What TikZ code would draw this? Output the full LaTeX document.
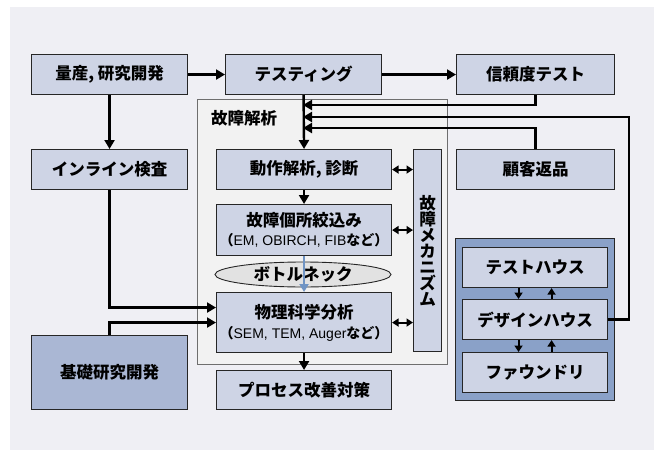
\documentclass[tikz,border=0pt]{standalone}
\usepackage{fontspec}
\newfontfamily\jp{Noto Sans CJK JP}
\newfontfamily\lat{Liberation Sans}
\usetikzlibrary{arrows.meta,shapes.geometric}
\definecolor{bgc}{HTML}{EFEFF4}
\definecolor{boxc}{HTML}{CED4E5}
\definecolor{basicc}{HTML}{AAB7D4}
\definecolor{bluec}{HTML}{8AA1C8}
\definecolor{contc}{HTML}{F2F2F2}
\definecolor{contb}{HTML}{6E6E6E}
\definecolor{ellc}{HTML}{E2E2E2}
\definecolor{arrblue}{HTML}{7094C4}
\begin{document}
\begin{tikzpicture}[x=1pt,y=-1pt,
  box/.style={draw=black!85, line width=1.1pt, fill=boxc, inner sep=0pt, anchor=north west, align=center,
    font=\jp\bfseries\fontsize{16.5}{19}\selectfont},
  arr/.style={line width=2.4pt, -{Triangle[length=9pt,width=10pt]}},
  dbl/.style={line width=1.9pt, {Triangle[length=6.5pt,width=8pt]}-{Triangle[length=6.5pt,width=8pt]}},
  sarr/.style={line width=1.9pt, -{Triangle[length=6.5pt,width=8pt]}}]
\useasboundingbox (0,0) rectangle (654,450);
\fill[bgc] (10,7) rectangle (654,450);

% failure analysis container
\node[draw=contb, line width=1pt, fill=contc, anchor=north west, minimum width=250pt, minimum height=265pt, inner sep=0pt] (fa) at (197,99) {};
\node[anchor=west, inner sep=0pt, font=\jp\bfseries\fontsize{16.5}{19}\selectfont] (falabel) at (211,118) {故障解析};

% blue container
\node[draw=black!85, line width=1.1pt, fill=bluec, anchor=north west, minimum width=159pt, minimum height=162pt, inner sep=0pt] (bc) at (455,238) {};

% boxes
\node[box, minimum width=156pt, minimum height=40pt] (mass) at (31,54) {量産, 研究開発};
\node[box, minimum width=156pt, minimum height=40pt] (test) at (225,54) {テスティング};
\node[box, minimum width=158pt, minimum height=40pt] (rel) at (456,54) {信頼度テスト};
\node[box, minimum width=156pt, minimum height=40pt] (inline) at (31,149) {インライン検査};
\node[box, minimum width=175pt, minimum height=40pt] (op) at (216,149) {動作解析, 診断};
\node[box, minimum width=158pt, minimum height=40pt] (cust) at (456,149) {顧客返品};
\node[box, minimum width=28pt, minimum height=202pt, font=\jp\bfseries\fontsize{16.5}{16}\selectfont] (mech) at (413,149) {故\\障\\メ\\カ\\ニ\\ズ\\ム};
\node[box, minimum width=175pt, minimum height=51pt] (loc) at (216,204) {故障個所絞込み\\[0pt]{\fontsize{14}{16}\selectfont （{\lat\mdseries EM, OBIRCH, FIB}など）}};
\node[draw=black!85, line width=0.9pt, fill=ellc, ellipse, inner sep=0pt, minimum width=176pt, minimum height=25pt,
  font=\jp\bfseries\fontsize{16.5}{19}\selectfont] (bottle) at (303,274.5) {ボトルネック};
\node[box, minimum width=175pt, minimum height=60pt] (phys) at (216,292) {物理科学分析\\[1pt]{\fontsize{14}{16}\selectfont （{\lat\mdseries SEM, TEM, Auger}など）}};
\node[box, minimum width=175pt, minimum height=39pt] (proc) at (216,370) {プロセス改善対策};
\node[box, fill=basicc, minimum width=156pt, minimum height=74pt] (basic) at (31,335) {基礎研究開発};
\node[box, minimum width=145pt, minimum height=40pt] (th) at (462,247) {テストハウス};
\node[box, minimum width=145pt, minimum height=40pt] (dh) at (462,299) {デザインハウス};
\node[box, minimum width=145pt, minimum height=40pt] (fd) at (462,352) {ファウンドリ};

% connectors
\draw[arr] (mass.east) -- (test.west);
\draw[arr] (test.east) -- (rel.west);
\draw[arr] (mass.south) -- (inline.north);
\draw[arr] (inline.south) |- ([yshift=15pt]phys.west);
\draw[arr] (basic.north) |- (phys.west);
\draw[arr] (test.south) -- (op.north);

\coordinate (f1) at (303,105);
\coordinate (f2) at (303,117);
\coordinate (f3) at (303,128);
\coordinate (c2) at (629,117);
\draw[arr] (rel.south) |- (f1);
\draw[arr] (dh.east) -| (c2) -- (f2);
\draw[arr] (cust.north) |- (f3);

\draw[arr] (op.south) -- (loc.north);
\draw[arr] (phys.south) -- (proc.north);
\draw[arrblue, line width=2.8pt, -{Triangle[length=8pt,width=9pt]}] (loc.south) -- (phys.north);

\draw[dbl] (op.east) -- (mech.west |- op.east);
\draw[dbl] (loc.east) -- (mech.west |- loc.east);
\draw[dbl] (phys.east) -- (mech.west |- phys.east);

\draw[sarr] ([xshift=-16.5pt]th.south) -- ([xshift=-16.5pt]dh.north);
\draw[sarr] ([xshift=16.5pt]dh.north) -- ([xshift=16.5pt]th.south);
\draw[sarr] ([xshift=-16.5pt]dh.south) -- ([xshift=-16.5pt]fd.north);
\draw[sarr] ([xshift=16.5pt]fd.north) -- ([xshift=16.5pt]dh.south);
\end{tikzpicture}
\end{document}
